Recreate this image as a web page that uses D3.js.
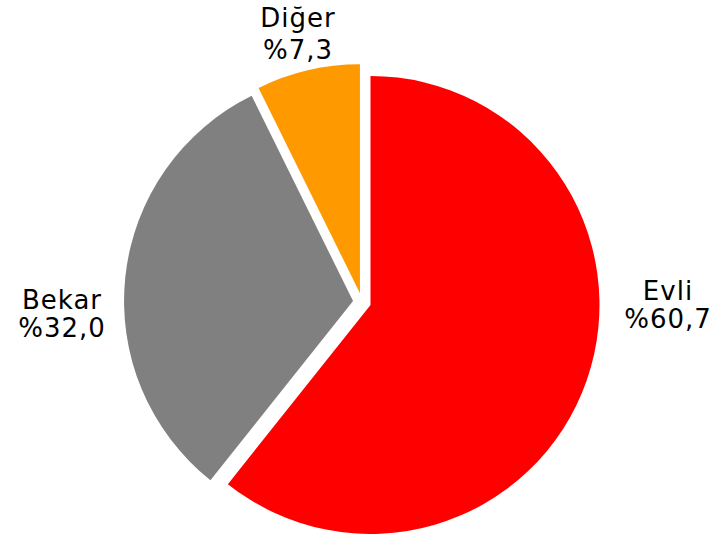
<!DOCTYPE html>
<html><head><meta charset="utf-8">
<script src="https://cdn.jsdelivr.net/npm/d3@7"></script>
<style>body{margin:0;background:#fff}svg{display:block}</style>
</head><body>
<svg id="c" width="726" height="536"></svg>
<script>
const categories = ["Evli", "Bekar", "Diğer"];
const values = [60.7, 32.0, 7.3];
const valueLabels = ["%60,7", "%32,0", "%7,3"];
const colors = ["#FF0000", "#808080", "#FF9900"];

// layout (not data)
const W = 726, H = 536, cx = 362, cy = 302, R = 229, explode = 9;
const labelPos = [[668, 300, 328], [62, 309, 337], [298, 27, 59]]; // x, baseline1, baseline2

const svg = d3.select("#c");
const pie = d3.pie().sort(null).value(d => d)(values);
const arc = d3.arc().innerRadius(0).outerRadius(R);
const g = svg.append("g").attr("transform", `translate(${cx},${cy})`);

g.selectAll("path").data(pie).join("path")
  .attr("d", arc)
  .attr("fill", (d, i) => colors[i])
  .attr("transform", d => {
    const a = (d.startAngle + d.endAngle) / 2;
    return `translate(${explode * Math.sin(a)},${-explode * Math.cos(a)})`;
  });

const lab = svg.selectAll("text.lbl").data(pie).join("text")
  .attr("class", "lbl")
  .attr("text-anchor", "middle")
  .attr("font-family", "Verdana, 'DejaVu Sans', sans-serif")
  .attr("font-size", 26)
  .attr("letter-spacing", 1)
  .attr("fill", "#000");
lab.append("tspan").attr("x", (d, i) => labelPos[i][0]).attr("y", (d, i) => labelPos[i][1])
  .text((d, i) => categories[i]);
lab.append("tspan").attr("x", (d, i) => labelPos[i][0]).attr("y", (d, i) => labelPos[i][2])
  .text((d, i) => valueLabels[i]);
</script>
</body></html>
